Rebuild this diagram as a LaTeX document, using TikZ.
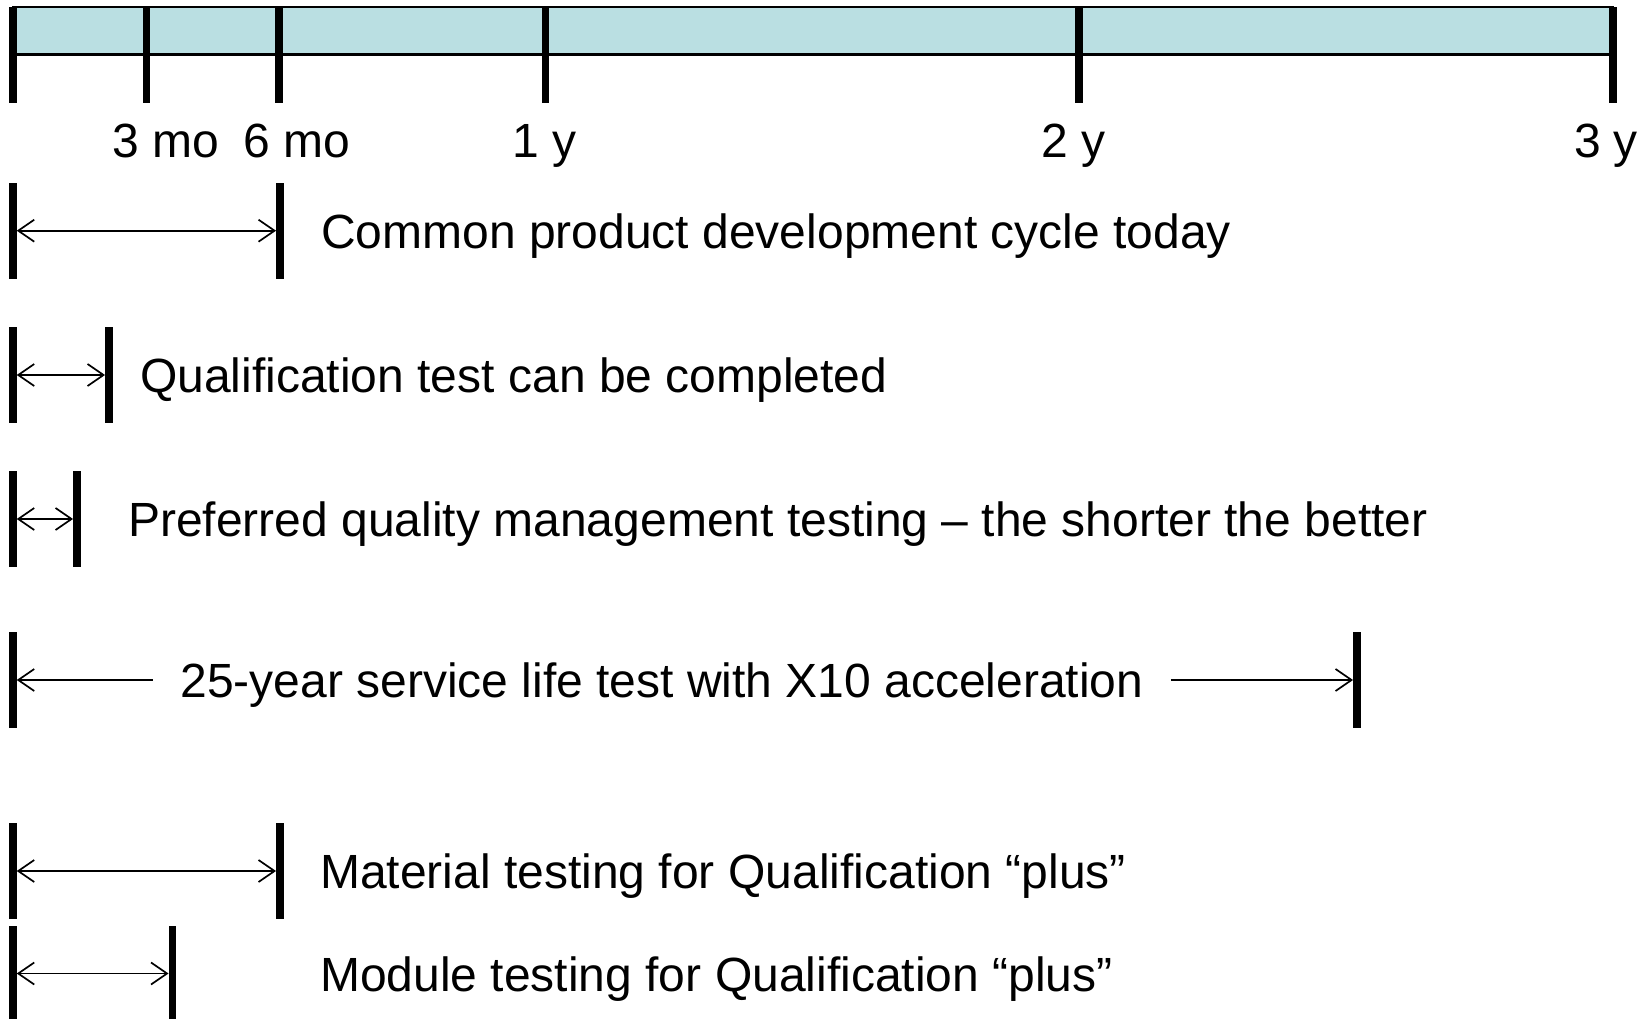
\documentclass[tikz,border=0pt]{standalone}
\usepackage{fontspec}
\setmainfont{Liberation Sans}
\usetikzlibrary{arrows.meta,positioning}
\definecolor{scalefill}{HTML}{BADFE2}
\tikzset{
  endbar/.style={rectangle,fill=black,inner sep=0pt,minimum width=7.5pt,minimum height=96pt},
  span/.style={line width=1.7pt},
  rowtext/.style={anchor=base west,inner sep=0pt,font=\fontsize{48pt}{57pt}\selectfont},
  ticktext/.style={anchor=base,inner sep=0pt,font=\fontsize{48pt}{57pt}\selectfont}
}

\begin{document}
\begin{tikzpicture}[x=1pt,y=-1pt,>={Straight Barb[length=16pt,width=22pt]}]
  \useasboundingbox (0,0) rectangle (1652,1019);

  \draw[fill=scalefill,line width=2.5pt] (12.8,7) rectangle (1613,54.5);
  \foreach \x/\n in {12.8/t0,146.5/t1,279.2/t2,545.7/t3,1079/t4,1613/t5}
    \node[endbar] (\n) at (\x,55) {};

  \node[ticktext] (m3) at (166,158) {3 mo};
  \node[ticktext] (m6) at (297,158) {6 mo};
  \node[ticktext] (y1) at (544.5,158) {1 y};
  \node[ticktext] (y2) at (1074,158) {2 y};
  \node[ticktext] (y3) at (1606,158) {3 y};

  \node[endbar] (a0) at (12.8,230.7) {};
  \node[endbar] (a1) at (280,230.7) {};
  \draw[span,<->] (a0.east) -- (a1.west);
  \node[rowtext] (ta) at (321,248.2) {Common product development cycle today};

  \node[endbar] (b0) at (12.8,375) {};
  \node[endbar] (b1) at (109,375) {};
  \draw[span,<->] (b0.east) -- (b1.west);
  \node[rowtext] (tb) at (140,392.5) {Qualification test can be completed};

  \node[endbar] (c0) at (12.8,519) {};
  \node[endbar] (c1) at (77,519) {};
  \draw[span,<->] (c0.east) -- (c1.west);
  \node[rowtext] (tc) at (128,536.5) {Preferred quality management testing – the shorter the better};

  \node[endbar] (d0) at (12.8,680) {};
  \node[endbar] (d1) at (1357,680) {};
  \node[ticktext,inner xsep=27pt] (td) at (662,697.5) {25-year service life test with X10 acceleration};
  \draw[span,<-] (d0.east) -- (d0.east -| td.west);
  \draw[span,->] (d0.east -| td.east) -- (d1.west);

  \node[endbar] (e0) at (12.8,871) {};
  \node[endbar] (e1) at (280,871) {};
  \draw[span,<->] (e0.east) -- (e1.west);
  \node[rowtext] (te) at (320,888.5) {Material testing for Qualification “plus”};

  \node[endbar] (f0) at (12.8,973.5) {};
  \node[endbar] (f1) at (172.5,973.5) {};
  \draw[span,<->] (f0.east) -- (f1.west);
  \node[rowtext] (tf) at (320,991) {Module testing for Qualification “plus”};
\end{tikzpicture}
\end{document}
